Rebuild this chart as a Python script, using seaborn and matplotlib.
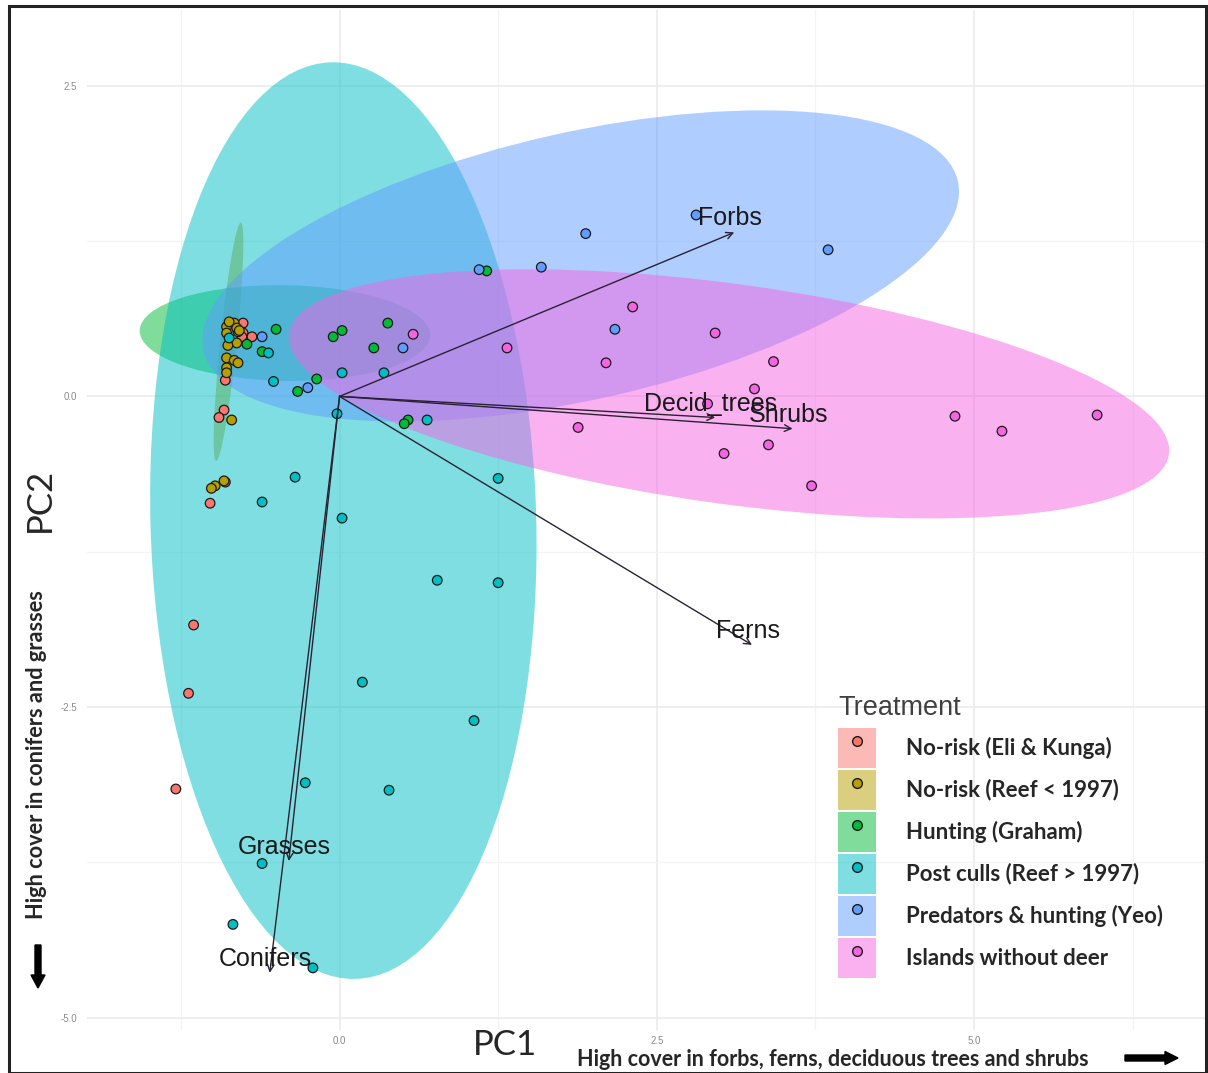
import numpy as np
import pandas as pd
import matplotlib
matplotlib.use("Agg")
import matplotlib.pyplot as plt
from matplotlib.patches import Ellipse, Rectangle, FancyArrow, Patch
from matplotlib.lines import Line2D
from matplotlib.legend_handler import HandlerTuple
import seaborn as sns

# ---------------- data ----------------
treatments = ["No-risk (Eli & Kunga)", "No-risk (Reef < 1997)", "Hunting (Graham)",
              "Post culls (Reef > 1997)", "Predators & hunting (Yeo)", "Islands without deer"]
palette = ["#F8766D", "#B79F00", "#00BA38", "#00BFC4", "#619CFF", "#F564E3"]

eli_pc1 = [-0.76, -0.76, -0.77, -0.69, -0.80, -0.90, -0.91, -0.95, -0.90, -1.02, -1.15, -1.19, -1.29]
eli_pc2 = [0.59, 0.51, 0.48, 0.48, 0.52, 0.13, -0.11, -0.17, -0.69, -0.86, -1.84, -2.39, -3.16]

reef_pre_pc1 = [-0.89, -0.83, -0.81, -0.89, -0.81, -0.88, -0.89, -0.83, -0.80, -0.89, -0.89,
                -0.85, -0.91, -0.98, -1.01, -0.87, -0.79]
reef_pre_pc2 = [0.56, 0.59, 0.55, 0.51, 0.43, 0.41, 0.31, 0.29, 0.27, 0.23, 0.19,
                -0.19, -0.68, -0.72, -0.74, 0.60, 0.53]

graham_pc1 = [-0.50, -0.73, -0.61, -0.05, 0.02, 0.38, 0.27, -0.18, -0.33, 1.16, 0.54, 0.51]
graham_pc2 = [0.54, 0.42, 0.36, 0.48, 0.53, 0.59, 0.39, 0.14, 0.04, 1.01, -0.19, -0.22]

reef_post_pc1 = [-0.87, -0.56, -0.52, 0.02, 0.35, -0.02, 0.69, -0.35, -0.61, 0.02, 1.25,
                 0.77, 1.25, 0.18, 1.06, -0.27, 0.39, -0.61, -0.84, -0.21]
reef_post_pc2 = [0.47, 0.35, 0.12, 0.19, 0.19, -0.14, -0.19, -0.65, -0.85, -0.98, -0.66,
                 -1.48, -1.50, -2.30, -2.61, -3.11, -3.17, -3.76, -4.25, -4.60]

yeo_pc1 = [2.81, 1.94, 3.85, 1.10, 1.59, 2.17, 0.50, -0.61, -0.25]
yeo_pc2 = [1.46, 1.31, 1.18, 1.02, 1.04, 0.54, 0.39, 0.48, 0.07]

nodeer_pc1 = [0.58, 1.32, 2.31, 2.96, 2.10, 3.42, 3.27, 2.90, 1.88, 3.38, 3.03, 3.72, 4.85, 5.22, 5.97]
nodeer_pc2 = [0.50, 0.39, 0.72, 0.51, 0.27, 0.28, 0.06, -0.06, -0.25, -0.39, -0.46, -0.72, -0.16, -0.28, -0.15]

# confidence ellipses (centre, full width, full height, rotation in degrees)
ellipse_groups = ["No-risk (Reef < 1997)", "Hunting (Graham)", "Post culls (Reef > 1997)",
                  "Predators & hunting (Yeo)", "Islands without deer"]
ellipse_cx = [-0.875, -0.43, 0.03, 1.90, 3.07]
ellipse_cy = [0.44, 0.51, -1.00, 1.05, 0.02]
ellipse_w = [0.13, 2.29, 3.04, 6.10, 7.00]
ellipse_h = [1.93, 0.77, 7.38, 2.15, 1.77]
ellipse_angle = [-5.8, -1.0, 1.5, 13.0, -8.0]

# variable loadings (arrows)
loading_names = ["Forbs", "Decid_trees", "Shrubs", "Ferns", "Grasses", "Conifers"]
loading_pc1 = [3.11, 2.96, 3.57, 3.25, -0.40, -0.55]
loading_pc2 = [1.32, -0.17, -0.26, -2.00, -3.74, -4.64]

x_ticks = [0.0, 2.5, 5.0]
x_ticklabels = ["0.0", "2.5", "5.0"]
y_ticks = [-5.0, -2.5, 0.0, 2.5]
y_ticklabels = ["-5.0", "-2.5", "0.0", "2.5"]

groups_pc1 = [eli_pc1, reef_pre_pc1, graham_pc1, reef_post_pc1, yeo_pc1, nodeer_pc1]
groups_pc2 = [eli_pc2, reef_pre_pc2, graham_pc2, reef_post_pc2, yeo_pc2, nodeer_pc2]
df = pd.concat([pd.DataFrame({"PC1": a, "PC2": b, "Treatment": t})
                for a, b, t in zip(groups_pc1, groups_pc2, treatments)], ignore_index=True)
color_map = dict(zip(treatments, palette))

# ---------------- figure ----------------
sns.set_theme(style="white")
plt.rcParams["font.family"] = ["Liberation Sans", "DejaVu Sans"]
plt.rcParams["axes.unicode_minus"] = False

W, H = 1208, 1073
fig = plt.figure(figsize=(W / 100, H / 100), dpi=100)
ax = fig.add_axes([87 / W, 1 - 1030 / H, (1205 - 87) / W, (1030 - 10) / H])
ax.set_xlim(-1.99, 6.82)
ax.set_ylim(-5.10, 3.11)

# grid
ax.set_xticks(x_ticks)
ax.set_xticklabels(x_ticklabels)
ax.set_yticks(y_ticks)
ax.set_yticklabels(y_ticklabels)
ax.set_xticks([-1.25, 1.25, 3.75, 6.25], minor=True)
ax.set_yticks([-3.75, -1.25, 1.25], minor=True)
ax.grid(which="major", color="#ebebeb", lw=1.2, zorder=0)
ax.grid(which="minor", color="#f3f3f3", lw=0.9, zorder=0)
ax.set_axisbelow(True)
ax.tick_params(which="both", length=0, labelsize=7, labelcolor="#8a8a8a")
ax.tick_params(axis="x", pad=4)
ax.tick_params(axis="y", pad=7)
for s in ax.spines.values():
    s.set_visible(False)

# ellipses
for g, cx, cy, w, h, a in zip(ellipse_groups, ellipse_cx, ellipse_cy, ellipse_w, ellipse_h, ellipse_angle):
    ax.add_patch(Ellipse((cx, cy), w, h, angle=a, facecolor=color_map[g],
                         alpha=0.5, edgecolor="none", zorder=1))

# points
sns.scatterplot(data=df, x="PC1", y="PC2", hue="Treatment", hue_order=treatments,
                palette=color_map, s=48, edgecolor="#1a1a1a", linewidth=0.9,
                legend=False, ax=ax, zorder=3)

# arrows + labels
for name, px, py in zip(loading_names, loading_pc1, loading_pc2):
    ax.annotate("", xy=(px, py), xytext=(0, 0),
                arrowprops=dict(arrowstyle="->", color="#2a2233", lw=1.0,
                                shrinkA=0, shrinkB=0, mutation_scale=12), zorder=4)
    ax.annotate(name, xy=(px, py), xytext=(-3, 10), textcoords="offset points",
                ha="center", va="center", fontsize=18, color="#1a1a1a", zorder=5)

ax.set_xlabel("")
ax.set_ylabel("")

# legend
handles = [(Patch(facecolor=c, alpha=0.5, edgecolor="none"),
            Line2D([], [], marker="o", linestyle="", markerfacecolor=c,
                   markeredgecolor="#1a1a1a", markeredgewidth=1.0, markersize=7))
           for c in palette]
leg = fig.legend(handles, treatments, handler_map={tuple: HandlerTuple(ndivide=1)},
                 loc="upper left", bbox_to_anchor=(838 / W, 1 - 695 / H),
                 frameon=False, title="Treatment", title_fontsize=19.5,
                 prop={"family": "Lato", "weight": "bold", "size": 16},
                 handlelength=1.71, handleheight=2.39, labelspacing=0.09,
                 handletextpad=1.35, borderpad=0, borderaxespad=0)
leg._legend_box.align = "left"
leg._legend_box.sep = 5
leg.get_title().set_color("#404040")

# axis titles and annotations
fig.text(505 / W, 1 - 1045 / H, "PC1", fontsize=25, family="Lato", ha="center", va="center")
fig.text(40 / W, 1 - 500 / H, "PC2", fontsize=25, family="Lato", rotation=90,
         ha="center", va="center")
fig.text(577 / W, 1 - 1060 / H, "High cover in forbs, ferns, deciduous trees and shrubs",
         fontsize=15.5, family="Lato", weight="bold", ha="left", va="center")
fig.text(37 / W, 1 - 755 / H, "High cover in conifers and grasses",
         fontsize=15.7, family="Lato", weight="bold", rotation=90, ha="center", va="center")

fig.patches.append(FancyArrow(1125 / W, 1 - 1058 / H, 40 / W, 0, width=6 / H,
                              head_width=13 / H, head_length=13 / W,
                              length_includes_head=False, color="black",
                              transform=fig.transFigure, figure=fig))
fig.patches.append(FancyArrow(38 / W, 1 - 945 / H, 0, -30 / H, width=6 / W,
                              head_width=14 / W, head_length=13 / H,
                              length_includes_head=False, color="black",
                              transform=fig.transFigure, figure=fig))

# outer frame
fig.patches.append(Rectangle((9 / W, 0.5 / H), (1206 - 9) / W, (1073 - 6.5) / H,
                             transform=fig.transFigure, fill=False,
                             edgecolor="#222222", lw=2.2, figure=fig))

fig.savefig("out.png", dpi=100)
